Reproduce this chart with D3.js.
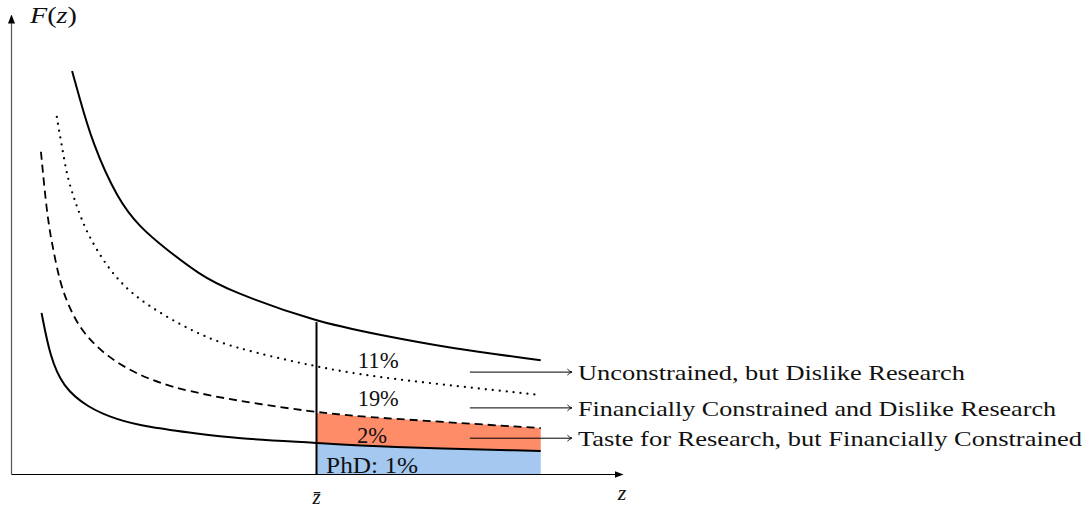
<!DOCTYPE html>
<html><head><meta charset="utf-8">
<script src="https://cdn.jsdelivr.net/npm/d3@7"></script>
<style>
html,body{margin:0;padding:0;background:#fff;}
text{font-family:"Liberation Serif","Times New Roman",serif;fill:#111;}
</style></head>
<body><svg id="chart" width="1086" height="513"></svg>
<script>
// ---- data (x, y in chart units) ----
const zBar = 5.0;
const topCurveX = [1.00,1.10,1.33,1.75,2.11,2.49,3.09,3.58,5.00,6.04,7.18,8.67];
const topCurveY = [8.78,8.30,7.21,5.97,5.38,4.95,4.34,3.99,3.31,3.03,2.74,2.48];
const dottedX = [0.75,0.79,0.83,0.88,0.93,1.00,1.08,1.24,1.57,1.95,2.49,3.04,3.58,5.00,6.04,8.67];
const dottedY = [7.78,7.45,7.17,6.78,6.45,6.14,5.82,5.25,4.51,3.94,3.46,3.07,2.77,2.33,2.09,1.72];
const dashedX = [0.49,0.59,0.67,0.80,0.97,1.18,1.57,2.19,3.09,5.00,6.04,8.67];
const dashedY = [7.02,5.64,5.03,4.16,3.57,3.07,2.55,2.07,1.72,1.33,1.22,1.00];
const bottomX = [0.50,0.64,0.85,1.24,1.73,2.24,3.09,3.63,5.00,6.04,8.67];
const bottomY = [3.51,2.55,1.90,1.46,1.18,1.02,0.87,0.78,0.68,0.59,0.50];
const shareLabels = ["11%","19%","2%","PhD: 1%"];
const groupLabels = ["Unconstrained, but Dislike Research",
                     "Financially Constrained and Dislike Research",
                     "Taste for Research, but Financially Constrained"];

// ---- layout ----
const svg = d3.select("#chart");
const x = d3.scaleLinear().domain([0,10]).range([11,622]);
const y = d3.scaleLinear().domain([0,10]).range([474,15]);
const zip = (xs,ys)=>xs.map((v,i)=>[v,ys[i]]);
const topPts = zip(topCurveX,topCurveY), dotPts = zip(dottedX,dottedY),
      dashPts = zip(dashedX,dashedY), botPts = zip(bottomX,bottomY);

const defs = svg.append("defs");
defs.append("marker").attr("id","axArrow").attr("markerUnits","userSpaceOnUse")
  .attr("viewBox","0 -4 9 8").attr("refX",8).attr("refY",0)
  .attr("markerWidth",9).attr("markerHeight",8).attr("orient","auto")
  .append("path").attr("d","M0,-3.5L9,0L0,3.5Z").attr("fill","#000");
defs.append("marker").attr("id","lArrow").attr("markerUnits","userSpaceOnUse")
  .attr("viewBox","-6 -4 8 8").attr("refX",0).attr("refY",0)
  .attr("markerWidth",8).attr("markerHeight",8).attr("orient","auto")
  .append("path").attr("d","M-4.5,-3 Q-2,-0.5 0,0 Q-2,0.5 -4.5,3")
  .attr("fill","none").attr("stroke","#000").attr("stroke-width",0.9);

const crv = d3.curveBasis;

// fills
const inRange = p => p[0] >= zBar - 1e-9;
const botR = botPts.filter(inRange), dashR = dashPts.filter(inRange);
const areaBlue = d3.area().x(d=>x(d[0])).y0(y(0)).y1(d=>y(d[1])).curve(crv);
svg.append("path").attr("d",areaBlue(botR)).attr("fill","#a4c8f0");
const orangeData = botR.map((p,i)=>[p[0],p[1],dashR[i][1]]);
const areaOr = d3.area().x(d=>x(d[0])).y0(d=>y(d[1])).y1(d=>y(d[2])).curve(crv);
svg.append("path").attr("d",areaOr(orangeData)).attr("fill","#ff8c69");

// axes
const xAxis = d3.axisBottom(x).tickValues([]).tickSizeOuter(0);
const gx = svg.append("g").attr("transform",`translate(0,${y(0)})`).call(xAxis);
gx.select(".domain").attr("stroke","#000").attr("stroke-width",1.2).attr("marker-end","url(#axArrow)");
const yAxis = d3.axisLeft(y).tickValues([]).tickSizeOuter(0);
const gy = svg.append("g").attr("transform",`translate(${x(0)},0)`).call(yAxis);
gy.select(".domain").attr("stroke","#555").attr("stroke-width",1.2).attr("marker-end","url(#axArrow)");

// curves
const line = d3.line().x(d=>x(d[0])).y(d=>y(d[1])).curve(crv);
svg.append("path").attr("d",line(topPts)).attr("fill","none").attr("stroke","#000").attr("stroke-width",2);
svg.append("path").attr("d",line(dotPts)).attr("fill","none").attr("stroke","#000").attr("stroke-width",2.3)
  .attr("stroke-dasharray","0,7").attr("stroke-linecap","round");
svg.append("path").attr("d",line(dashPts)).attr("fill","none").attr("stroke","#000").attr("stroke-width",1.8)
  .attr("stroke-dasharray","8,5");
svg.append("path").attr("d",line(botPts)).attr("fill","none").attr("stroke","#000").attr("stroke-width",2);

// vertical line at z-bar
svg.append("line").attr("x1",x(zBar)).attr("x2",x(zBar)).attr("y1",y(0)).attr("y2",y(topCurveY[topCurveX.indexOf(zBar)]))
  .attr("stroke","#000").attr("stroke-width",2);

// share labels
const shareX = [6.01,6.01,5.91,5.91], shareY = [2.48,1.66,0.85,0.20];
const shareW = [41,41,30,92];
shareLabels.forEach((t,i)=>{
  svg.append("text").attr("x",x(shareX[i])).attr("y",y(shareY[i])).attr("dy","0.35em")
    .attr("text-anchor","middle").attr("font-size",23)
    .attr("textLength",shareW[i]).attr("lengthAdjust","spacingAndGlyphs").text(t);
});

// arrows + group labels
const arrowY = [2.22,1.44,0.78];
const groupW = [387,478,504];
groupLabels.forEach((t,i)=>{
  svg.append("line").attr("x1",x(7.51)).attr("x2",x(9.18)).attr("y1",y(arrowY[i])).attr("y2",y(arrowY[i]))
    .attr("stroke","#000").attr("stroke-width",1).attr("marker-end","url(#lArrow)");
  svg.append("text").attr("x",x(9.28)).attr("y",y(arrowY[i])).attr("dy","0.35em")
    .attr("font-size",22).attr("textLength",groupW[i]).attr("lengthAdjust","spacingAndGlyphs").text(t);
});

// axis titles
const fz = svg.append("text").attr("x",30).attr("y",23).attr("font-size",24)
  .attr("textLength",47).attr("lengthAdjust","spacingAndGlyphs");
fz.append("tspan").attr("font-style","italic").text("F");
fz.append("tspan").text("(");
fz.append("tspan").attr("font-style","italic").text("z");
fz.append("tspan").text(")");
svg.append("text").attr("x",x(10)).attr("y",500).attr("text-anchor","middle")
  .attr("font-style","italic").attr("font-size",22).text("z");
svg.append("text").attr("x",x(zBar)).attr("y",504).attr("text-anchor","middle")
  .attr("font-style","italic").attr("font-size",21).text("z\u0304");
</script></body></html>
